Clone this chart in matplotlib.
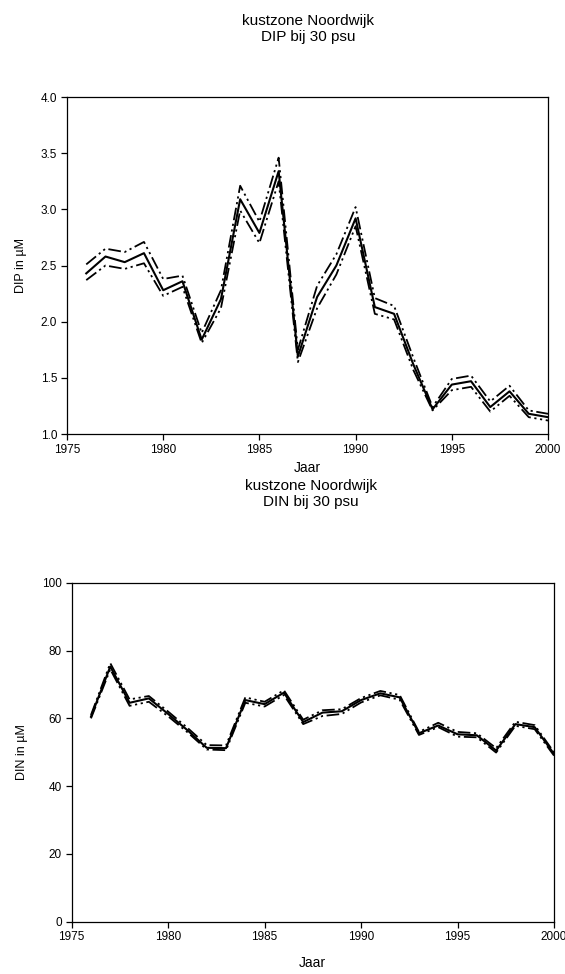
#!/usr/bin/env python3
"""DIP and DIN at 30 psu in the Noordwijk coastal zone, 1976-2000."""

import matplotlib
matplotlib.use('Agg')
import matplotlib.pyplot as plt
from matplotlib.ticker import FormatStrFormatter

plt.rcParams['font.family'] = ['Liberation Sans', 'DejaVu Sans']

years = list(range(1976, 2001))

# DIP (uM): mean with upper and lower bound
dip_mean = [2.43, 2.58, 2.53, 2.61, 2.28, 2.36, 1.84, 2.20, 3.09, 2.79,
            3.34, 1.69, 2.22, 2.50, 2.92, 2.13, 2.07, 1.62, 1.22, 1.44,
            1.47, 1.24, 1.38, 1.18, 1.15]
dip_upper = [2.51, 2.65, 2.62, 2.71, 2.38, 2.41, 1.90, 2.28, 3.21, 2.89,
             3.46, 1.75, 2.32, 2.60, 3.02, 2.21, 2.14, 1.68, 1.24, 1.49,
             1.52, 1.29, 1.43, 1.21, 1.18]
dip_lower = [2.37, 2.50, 2.47, 2.52, 2.23, 2.31, 1.81, 2.12, 2.99, 2.70,
             3.25, 1.64, 2.12, 2.42, 2.85, 2.07, 2.02, 1.57, 1.21, 1.39,
             1.42, 1.20, 1.34, 1.15, 1.12]

# DIN (uM): mean with upper and lower bound
din_mean = [60.5, 75.3, 64.6, 65.9, 61.3, 56.5, 51.3, 51.2, 65.4, 64.2,
            67.6, 58.9, 61.7, 62.1, 65.4, 67.4, 66.2, 55.6, 57.9, 55.3,
            55.0, 50.5, 58.3, 57.4, 49.5]
din_upper = [61.0, 76.3, 65.6, 66.6, 62.0, 57.2, 52.1, 52.0, 66.2, 64.9,
             68.3, 59.6, 62.4, 62.7, 66.0, 68.1, 66.9, 56.0, 58.7, 56.0,
             55.6, 51.2, 59.0, 58.0, 50.0]
din_lower = [60.0, 74.5, 63.7, 64.9, 60.6, 55.9, 50.8, 50.6, 64.6, 63.5,
             66.9, 58.3, 60.7, 61.3, 64.7, 66.8, 65.5, 55.1, 57.4, 54.6,
             54.4, 49.9, 57.8, 56.8, 49.0]

BOUND_STYLE = (0, (7, 2, 1.2, 2, 1.2, 2))


def draw_panel(ax, mean, upper, lower, ylim, yticks, ylabel, fmt):
    ax.plot(years, upper, color='black', linewidth=1.3, linestyle=BOUND_STYLE)
    ax.plot(years, lower, color='black', linewidth=1.3, linestyle=BOUND_STYLE)
    ax.plot(years, mean, color='black', linewidth=1.5)
    ax.set_xlim(1975, 2000)
    ax.set_ylim(*ylim)
    ax.set_xticks(range(1975, 2001, 5))
    ax.set_yticks(yticks)
    ax.yaxis.set_major_formatter(FormatStrFormatter(fmt))
    ax.tick_params(direction='out', length=4, width=0.9, labelsize=8.5,
                   top=False, right=False, pad=3)
    for spine in ax.spines.values():
        spine.set_linewidth(0.9)
        spine.set_color('black')
    ax.set_ylabel(ylabel, fontsize=9, labelpad=10)


fig = plt.figure(figsize=(5.65, 9.74), dpi=100)

ax_dip = fig.add_axes([0.1186, 0.5544, 0.8513, 0.346])
draw_panel(ax_dip, dip_mean, dip_upper, dip_lower, (1.0, 4.0),
           [1.0, 1.5, 2.0, 2.5, 3.0, 3.5, 4.0], 'DIP in µM', '%.1f')
ax_dip.set_xlabel('Jaar', fontsize=10, labelpad=4)
fig.text(0.545, 1 - 29 / 974, 'kustzone Noordwijk\nDIP bij 30 psu',
         ha='center', va='center', fontsize=11, linespacing=1.15)

ax_din = fig.add_axes([0.1269, 0.0539, 0.8536, 0.3476])
draw_panel(ax_din, din_mean, din_upper, din_lower, (0, 100),
           [0, 20, 40, 60, 80, 100], 'DIN in µM', '%d')
ax_din.set_xlabel('Jaar', fontsize=10, labelpad=9)
fig.text(0.55, 1 - 494 / 974, 'kustzone Noordwijk\nDIN bij 30 psu',
         ha='center', va='center', fontsize=11, linespacing=1.15)

fig.savefig('out.png', dpi=100)
